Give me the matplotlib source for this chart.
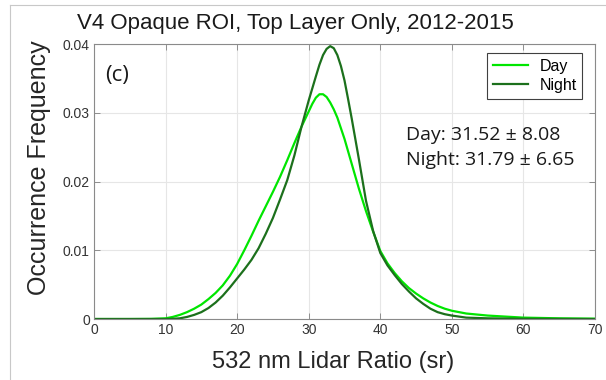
import matplotlib
matplotlib.use("Agg")
import matplotlib.pyplot as plt
from matplotlib.lines import Line2D

# Lidar ratio (sr) and occurrence frequency for each curve
day_ratio = [0, 5, 8, 10, 11, 12, 13, 14, 15, 16, 17, 18, 19, 20, 21, 22, 23, 24,
             25, 26, 27, 28, 29, 30, 30.5, 31, 31.5, 32, 32.5, 33, 33.5, 34, 35,
             36, 37, 38, 39, 40, 41, 42, 43, 44, 45, 46, 47, 48, 49, 50, 52, 55,
             60, 65, 70]
day_freq = [0, 0, 0.00002, 0.0001, 0.0003, 0.0006, 0.0010, 0.0015, 0.0021, 0.0029,
            0.0038, 0.0049, 0.0063, 0.0080, 0.0100, 0.0121, 0.0143, 0.0164,
            0.0185, 0.0207, 0.0231, 0.0256, 0.0280, 0.0302, 0.0313, 0.0322,
            0.0327, 0.0327, 0.0323, 0.0315, 0.0305, 0.0293, 0.0262, 0.0226,
            0.0190, 0.0157, 0.0127, 0.0099, 0.0081, 0.0067, 0.0055, 0.0045,
            0.0037, 0.0030, 0.0024, 0.0019, 0.0015, 0.0012, 0.0008, 0.0005,
            0.0002, 0.0001, 0.00005]

night_ratio = [0, 5, 10, 11, 12, 13, 14, 15, 16, 17, 18, 19, 20, 21, 22, 23, 24,
               25, 26, 27, 28, 29, 30, 31, 31.5, 32, 32.5, 33, 33.5, 34, 34.5, 35,
               35.5, 36, 37, 38, 39, 40, 41, 42, 43, 44, 45, 46, 47, 48, 49, 50,
               52, 55, 60, 70]
night_freq = [0, 0, 0, 0.00003, 0.0001, 0.0003, 0.0006, 0.0010, 0.0016, 0.0024,
              0.0034, 0.0046, 0.0059, 0.0072, 0.0086, 0.0103, 0.0124, 0.0147,
              0.0174, 0.0202, 0.0238, 0.0280, 0.0318, 0.0353, 0.0370, 0.0384,
              0.0393, 0.0397, 0.0394, 0.0384, 0.0368, 0.0347, 0.0320, 0.0292,
              0.0233, 0.0172, 0.0128, 0.0096, 0.0078, 0.0064, 0.0051, 0.0040,
              0.0030, 0.0022, 0.0015, 0.0010, 0.0007, 0.0005, 0.0002, 0.0001,
              0.00003, 0]

stats = {"Day": (31.52, 8.08), "Night": (31.79, 6.65)}

DAY_COLOR = "#00e600"
NIGHT_COLOR = "#1c701c"
NOTE_FONT = ["Open Sans", "DejaVu Sans"]

plt.rcParams["font.family"] = ["Liberation Sans", "DejaVu Sans"]

fig = plt.figure(figsize=(6.06, 3.8), dpi=100)
ax = fig.add_axes([0.155, 0.1605, 0.827, 0.7235])

ax.plot(day_ratio, day_freq, color=DAY_COLOR, lw=1.6, label="Day")
ax.plot(night_ratio, night_freq, color=NIGHT_COLOR, lw=1.6, label="Night")

ax.set_xlim(0, 70)
ax.set_ylim(0, 0.04)
ax.set_xticks(range(0, 71, 10))
ax.set_yticks([0, 0.01, 0.02, 0.03, 0.04])
ax.set_yticklabels(["0", "0.01", "0.02", "0.03", "0.04"])
ax.grid(True, color="#e6e6e6", lw=0.8)
ax.set_axisbelow(True)
ax.tick_params(direction="in", top=True, right=True, length=4, width=0.6,
               colors="#808080", labelcolor="#333333", labelsize=10, pad=3)
for sp in ax.spines.values():
    sp.set_color("#8a8a8a")
    sp.set_linewidth(0.8)

ax.set_title("V4 Opaque ROI, Top Layer Only, 2012-2015", fontsize=16,
             color="#1a1a1a", pad=11, x=0.402)
ax.set_xlabel("532 nm Lidar Ratio (sr)", fontsize=17, color="#262626")
ax.xaxis.set_label_coords(0.477, -0.118)
ax.set_ylabel("Occurrence Frequency", fontsize=18, color="#262626")
ax.yaxis.set_label_coords(-0.085, 0.55)

ax.text(1.5, 0.0355, "(c)", fontsize=16, family=NOTE_FONT,
        va="center", ha="left", color="#1a1a1a")
lines = [f"{k}: {m:.2f} \u00b1 {s:.2f}" for k, (m, s) in stats.items()]
ax.text(43.6, 0.0268, lines[0], fontsize=14, family=NOTE_FONT,
        va="center", ha="left", color="#1a1a1a")
ax.text(43.6, 0.0231, lines[1], fontsize=14, family=NOTE_FONT,
        va="center", ha="left", color="#1a1a1a")

leg = ax.legend(loc="upper right", fontsize=11.5, frameon=True, fancybox=False,
                edgecolor="#404040", borderpad=0.35, handlelength=2.2,
                handletextpad=0.7, labelspacing=0.25,
                bbox_to_anchor=(0.99, 0.995), framealpha=1)
leg.get_frame().set_linewidth(0.8)

# thin frame around the figure
fig.add_artist(Line2D([10 / 606, 10 / 606], [0, 1 - 5 / 380], color="#c8c8c8",
                      lw=0.8, transform=fig.transFigure))
fig.add_artist(Line2D([10 / 606, 1], [1 - 5 / 380, 1 - 5 / 380], color="#c8c8c8",
                      lw=0.8, transform=fig.transFigure))

fig.savefig("out.png", dpi=100)
